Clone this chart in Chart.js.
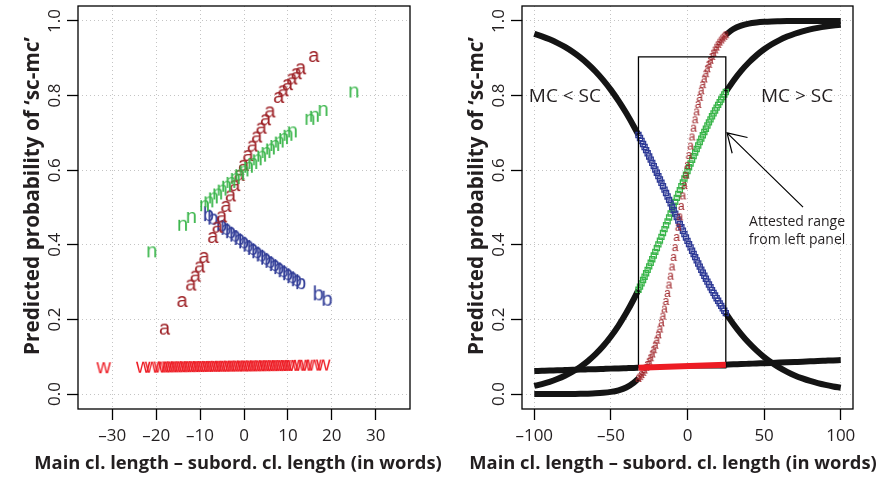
<!DOCTYPE html>
<html><head><meta charset="utf-8">
<script src="https://cdn.jsdelivr.net/npm/chart.js@4.4.0/dist/chart.umd.min.js"></script>
<style>
html,body{margin:0;padding:0;background:#fff;}
#wrap{position:relative;width:891px;height:487px;overflow:hidden;}
#c1{position:absolute;left:0;top:0;}
#c2{position:absolute;left:445px;top:0;}
</style></head><body>
<div id="wrap"><canvas id="c1" width="445" height="487"></canvas><canvas id="c2" width="446" height="487"></canvas></div>
<script>
// ---------- ticks & texts ----------
const yTicks=[0,0.2,0.4,0.6,0.8,1.0];
const yTickLabels=['0.0','0.2','0.4','0.6','0.8','1.0'];
const leftXTicks=[-30,-20,-10,0,10,20,30];
const leftXTickLabels=['–30','–20','–10','0','10','20','30'];
const rightXTicks=[-100,-50,0,50,100];
const rightXTickLabels=['–100','–50','0','50','100'];
const xTitle='Main cl. length – subord. cl. length (in words)';
const yTitle='Predicted probability of ‘sc-mc’';

// ---------- left panel: letter markers ----------
const aX=[-18,-14,-12,-11,-10,-9,-7,-6,-5,-4,-3,-2,-1,0,1,2,3,4,5,6,8,9,10,11,12,13,16];
const aY=[0.1742,0.2482,0.2923,0.316,0.3407,0.3663,0.4197,0.4472,0.475,0.503,0.531,0.5587,0.5861,0.613,0.6392,0.6646,0.6891,0.7126,0.735,0.7562,0.7951,0.8128,0.8292,0.8445,0.8586,0.8717,0.9048];
const nX=[-21,-14,-12,-9,-8,-7,-6,-5,-4,-3,-2,-1,0,1,2,3,4,5,6,7,8,9,10,11,15,16,18,25];
const nY=[0.3811,0.4524,0.4733,0.5047,0.5152,0.5257,0.5362,0.5466,0.557,0.5673,0.5776,0.5878,0.598,0.608,0.618,0.6279,0.6376,0.6473,0.6568,0.6662,0.6755,0.6846,0.6936,0.7025,0.7363,0.7444,0.76,0.8095];
const bX=[-8,-7,-5,-4,-3,-2,-1,0,1,2,3,4,5,6,7,8,9,10,11,12,13,17,19];
const bY=[0.4836,0.4743,0.456,0.4469,0.4377,0.4287,0.4197,0.4107,0.4018,0.393,0.3842,0.3755,0.3669,0.3584,0.3499,0.3416,0.3333,0.3252,0.3171,0.3092,0.3013,0.2713,0.2569];
const wX=[-32,-23,-21,-19,-18,-17,-16,-15,-14,-13,-12,-11,-10,-9,-8,-7,-6,-5,-4,-3,-2,-1,0,1,2,3,4,5,6,7,8,9,10,11,13,14,16,18];
const wY=[0.0706,0.0719,0.0722,0.0725,0.0726,0.0728,0.0729,0.0731,0.0732,0.0734,0.0735,0.0737,0.0738,0.074,0.0741,0.0742,0.0744,0.0745,0.0747,0.0748,0.075,0.0751,0.0752,0.0754,0.0755,0.0757,0.0758,0.076,0.0761,0.0763,0.0764,0.0765,0.0767,0.0768,0.0771,0.0773,0.0776,0.0779];

// ---------- right panel: curves ----------
const outerLeftX=[-100,-95,-90,-85,-80,-75,-70,-65,-60,-55,-50,-45,-40,-35,-32];
const outerRightX=[25,30,35,40,45,50,55,60,65,70,75,80,85,90,95,100];
const aOuterLeft=[0,0,0.0001,0.0001,0.0002,0.0004,0.0006,0.0011,0.0019,0.0033,0.0058,0.0102,0.0176,0.0305,0.0422];
const aOuterRight=[0.963,0.9785,0.9876,0.9929,0.9959,0.9977,0.9987,0.9992,0.9996,0.9998,0.9999,0.9999,1,1,1,1];
const nOuterLeft=[0.0218,0.0268,0.0328,0.0402,0.0491,0.0599,0.0729,0.0884,0.1069,0.1286,0.1541,0.1835,0.217,0.2548,0.2795];
const nOuterRight=[0.8095,0.8398,0.8661,0.8886,0.9077,0.924,0.9374,0.9487,0.958,0.9657,0.972,0.9772,0.9814,0.9849,0.9877,0.99];
const bOuterLeft=[0.9654,0.9587,0.9507,0.9413,0.9303,0.9173,0.9022,0.8847,0.8645,0.8413,0.8152,0.7857,0.7531,0.7172,0.6942];
const bOuterRight=[0.217,0.1872,0.1608,0.1374,0.117,0.0992,0.0839,0.0709,0.0596,0.05,0.042,0.0351,0.0294,0.0246,0.0205,0.0171];
const wOuterLeft=[0.0618,0.0624,0.063,0.0637,0.0643,0.0649,0.0656,0.0662,0.0668,0.0675,0.0682,0.0688,0.0695,0.0702,0.0706];
const wOuterRight=[0.0789,0.0797,0.0804,0.0812,0.082,0.0828,0.0836,0.0844,0.0852,0.086,0.0868,0.0877,0.0885,0.0894,0.0903,0.0911];
const rangeX=[-32,-31,-30,-29,-28,-27,-26,-25,-24,-23,-22,-21,-20,-19,-18,-17,-16,-15,-14,-13,-12,-11,-10,-9,-8,-7,-6,-5,-4,-3,-2,-1,0,1,2,3,4,5,6,7,8,9,10,11,12,13,14,15,16,17,18,19,20,21,22,23,24,25];
const aRange=[0.0421,0.0469,0.0522,0.058,0.0644,0.0715,0.0793,0.0879,0.0973,0.1075,0.1188,0.131,0.1443,0.1587,0.1742,0.1909,0.2088,0.2279,0.2482,0.2698,0.2923,0.316,0.3407,0.3663,0.3926,0.4197,0.4472,0.475,0.503,0.531,0.5587,0.5861,0.613,0.6392,0.6646,0.6891,0.7126,0.735,0.7562,0.7763,0.7951,0.8128,0.8292,0.8445,0.8586,0.8717,0.8837,0.8947,0.9048,0.914,0.9224,0.93,0.937,0.9433,0.949,0.9542,0.9588,0.963];
const nRange=[0.2795,0.288,0.2967,0.3056,0.3145,0.3237,0.3329,0.3423,0.3518,0.3615,0.3712,0.3811,0.391,0.4011,0.4112,0.4214,0.4317,0.442,0.4524,0.4628,0.4733,0.4838,0.4943,0.5047,0.5152,0.5257,0.5362,0.5466,0.557,0.5673,0.5776,0.5878,0.598,0.608,0.618,0.6279,0.6376,0.6473,0.6568,0.6662,0.6755,0.6846,0.6936,0.7025,0.7111,0.7197,0.7281,0.7363,0.7444,0.7523,0.76,0.7677,0.775,0.7823,0.7893,0.7963,0.803,0.8095];
const bRange=[0.6942,0.6863,0.6783,0.6702,0.662,0.6537,0.6453,0.6368,0.6282,0.6196,0.6108,0.602,0.5932,0.5842,0.5752,0.5662,0.5571,0.548,0.5388,0.5296,0.5204,0.5112,0.502,0.4928,0.4836,0.4743,0.4652,0.456,0.4469,0.4377,0.4287,0.4197,0.4107,0.4018,0.393,0.3842,0.3755,0.3669,0.3584,0.3499,0.3416,0.3333,0.3252,0.3171,0.3092,0.3013,0.2936,0.2861,0.2786,0.2713,0.264,0.2569,0.25,0.2431,0.2364,0.2298,0.2233,0.217];
const wRangeX=[-32,25];
const wRangeY=[0.0706,0.0789];
const boxX=[-32,25];
const boxY=[0.0706,0.9035];
const annoLabels=[{text:'MC < SC',x:-80,y:0.796},{text:'MC > SC',x:71.5,y:0.796}];
const attestedLines=[{text:'Attested range',x:71.5,y:0.461},{text:'from left panel',x:71.5,y:0.413}];
const arrowTail={x:75.4,y:0.501};
const arrowTip={x:25.8,y:0.70};

// ---------- styling ----------
const COL_A='#9e2227', COL_N='#39b54a', COL_B='#2e3a96', COL_W='#ed1c24', COL_K='#141414', TXT='#231f20';
const FONT_FAM='"Open Sans","Noto Sans",sans-serif';
const TICK_FONT='17px '+FONT_FAM;

const zip=(xs,ys)=>xs.map((x,i)=>({x:x,y:ys[i]}));
function letter(ch,color,font){
  const m=document.createElement('canvas').getContext('2d');
  m.font=font; const mt=m.measureText(ch);
  const l=mt.actualBoundingBoxLeft, r=mt.actualBoundingBoxRight, asc=mt.actualBoundingBoxAscent, desc=mt.actualBoundingBoxDescent;
  const w=Math.ceil(l+r)+4, h=Math.ceil(asc+desc)+4;
  const c=document.createElement('canvas'); c.width=w; c.height=h;
  const g=c.getContext('2d'); g.font=font; g.fillStyle=color; g.textBaseline='alphabetic'; g.textAlign='left';
  g.fillText(ch, w/2-(r-l)/2, h/2+(asc-desc)/2);
  return c;
}
const BIG='20px "Liberation Sans",Arial,sans-serif';
const glyphA=letter('a',COL_A,BIG), glyphN=letter('n',COL_N,BIG), glyphB=letter('b',COL_B,BIG), glyphW=letter('w',COL_W,BIG);
const glyphSmallA=letter('a',COL_A,'12px "Liberation Sans",Arial,sans-serif');

// fit title fonts to target lengths
const mctx=document.createElement('canvas').getContext('2d');
mctx.font='bold 20px '+FONT_FAM;
const X_TITLE_FONT='bold '+(20*408/mctx.measureText(xTitle).width).toFixed(2)+'px '+FONT_FAM;
const Y_TITLE_FONT='bold '+(20*318/mctx.measureText(yTitle).width).toFixed(2)+'px '+FONT_FAM;

function scalesFor(xmin,xmax,xticks,yWidth){
  const grid={color:'#c4c4c4',lineWidth:1,drawTicks:true,tickLength:11,tickColor:'#000',tickWidth:1.3};
  return {
    x:{type:'linear',min:xmin,max:xmax,
       afterBuildTicks:s=>{s.ticks=xticks.map(v=>({value:v}));},
       afterFit:s=>{s.height=78;},
       ticks:{display:false},grid:grid,border:{display:false,dash:[1,3]}},
    y:{type:'linear',min:-0.04,max:1.04,
       afterBuildTicks:s=>{s.ticks=yTicks.map(v=>({value:v}));},
       afterFit:s=>{s.width=yWidth;},
       ticks:{display:false},grid:grid,border:{display:false,dash:[1,3]}}
  };
}
function decor(xticks,xlabels,titleX,extra){
  return {id:'decor',afterDraw(chart){
    const ctx=chart.ctx,a=chart.chartArea,x=chart.scales.x,y=chart.scales.y;
    ctx.save();
    ctx.strokeStyle='#000';ctx.lineWidth=1.3;
    ctx.strokeRect(a.left,a.top,a.right-a.left,a.bottom-a.top);
    ctx.fillStyle=TXT;ctx.textAlign='center';ctx.textBaseline='middle';
    ctx.font=TICK_FONT;
    xticks.forEach((v,i)=>ctx.fillText(xlabels[i],x.getPixelForValue(v),436));
    yTicks.forEach((v,i)=>{ctx.save();ctx.translate(a.left-23,y.getPixelForValue(v));ctx.rotate(-Math.PI/2);ctx.fillText(yTickLabels[i],0,0);ctx.restore();});
    ctx.font=X_TITLE_FONT;
    ctx.fillText(xTitle,titleX,464);
    ctx.font=Y_TITLE_FONT;
    ctx.save();ctx.translate(a.left-45,196);ctx.rotate(-Math.PI/2);ctx.fillText(yTitle,0,0);ctx.restore();
    if(extra) extra(chart);
    ctx.restore();
  }};
}
function letterSet(xs,ys,glyph,order){
  return {type:'scatter',data:zip(xs,ys),pointStyle:glyph,pointRadius:5,showLine:false,order:order};
}
const common={responsive:false,animation:false,events:[],plugins:{legend:{display:false},tooltip:{enabled:false}}};

// ---------- left chart ----------
new Chart(document.getElementById('c1'),{
  type:'scatter',
  data:{datasets:[
    letterSet(nX,nY,glyphN,1),
    letterSet(aX,aY,glyphA,2),
    letterSet(bX,bY,glyphB,3),
    letterSet(wX,wY,glyphW,4)
  ]},
  options:Object.assign({},common,{
    layout:{padding:{top:6,right:35,left:0,bottom:0}},
    scales:scalesFor(-37.8,37.8,leftXTicks,78)
  }),
  plugins:[decor(leftXTicks,leftXTickLabels,238)]
});

// ---------- right chart ----------
function blackLine(xs,ys,order){
  return {type:'scatter',data:zip(xs,ys),showLine:true,borderColor:COL_K,borderWidth:6,pointRadius:0,cubicInterpolationMode:'monotone',order:order};
}
function squares(xs,ys,color,order){
  return {type:'scatter',data:zip(xs,ys),showLine:false,pointStyle:'rect',pointRadius:3.6,pointBorderWidth:1.3,pointBorderColor:color,pointBackgroundColor:'rgba(255,255,255,0)',order:order};
}
const boxPts=[{x:boxX[0],y:boxY[0]},{x:boxX[0],y:boxY[1]},{x:boxX[1],y:boxY[1]},{x:boxX[1],y:boxY[0]},{x:boxX[0],y:boxY[0]}];
function rightExtra(chart){
  const ctx=chart.ctx,x=chart.scales.x,y=chart.scales.y;
  ctx.fillStyle=TXT;ctx.textAlign='center';ctx.textBaseline='middle';
  ctx.font='19px '+FONT_FAM;
  annoLabels.forEach(l=>ctx.fillText(l.text,x.getPixelForValue(l.x),y.getPixelForValue(l.y)));
  ctx.font='14px '+FONT_FAM;
  attestedLines.forEach(l=>ctx.fillText(l.text,x.getPixelForValue(l.x),y.getPixelForValue(l.y)));
  const tx=x.getPixelForValue(arrowTail.x),ty=y.getPixelForValue(arrowTail.y);
  const hx=x.getPixelForValue(arrowTip.x),hy=y.getPixelForValue(arrowTip.y);
  ctx.strokeStyle='#000';ctx.lineWidth=1.2;
  ctx.beginPath();ctx.moveTo(tx,ty);ctx.lineTo(hx,hy);
  const ang=Math.atan2(ty-hy,tx-hx),L=21,sp=0.55;
  ctx.moveTo(hx+L*Math.cos(ang-sp),hy+L*Math.sin(ang-sp));ctx.lineTo(hx,hy);
  ctx.lineTo(hx+L*Math.cos(ang+sp),hy+L*Math.sin(ang+sp));
  ctx.stroke();
}
new Chart(document.getElementById('c2'),{
  type:'scatter',
  data:{datasets:[
    {type:'scatter',data:zip(wRangeX,wRangeY),showLine:true,borderColor:COL_W,borderWidth:6,pointRadius:0,order:-1},
    {type:'scatter',data:boxPts,showLine:true,borderColor:'#000',borderWidth:1.3,pointRadius:0,order:0},
    {type:'scatter',data:zip(rangeX,aRange),pointStyle:glyphSmallA,pointRadius:3,showLine:false,order:1},
    squares(rangeX,bRange,COL_B,2),
    squares(rangeX,nRange,COL_N,3),
    blackLine(outerLeftX,aOuterLeft,5),blackLine(outerRightX,aOuterRight,5),
    blackLine(outerLeftX,nOuterLeft,6),blackLine(outerRightX,nOuterRight,6),
    blackLine(outerLeftX,bOuterLeft,7),blackLine(outerRightX,bOuterRight,7),
    blackLine(outerLeftX,wOuterLeft,8),blackLine(outerRightX,wOuterRight,8)
  ]},
  options:Object.assign({},common,{
    layout:{padding:{top:6,right:38,left:0,bottom:0}},
    scales:scalesFor(-108,108,rightXTicks,77)
  }),
  plugins:[decor(rightXTicks,rightXTickLabels,228,rightExtra)]
});
</script>
</body></html>
